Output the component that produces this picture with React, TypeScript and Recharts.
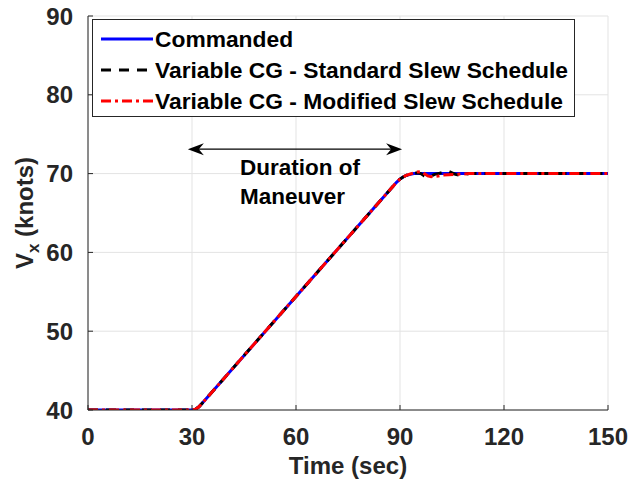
import { CartesianGrid, Line, LineChart, ReferenceLine, XAxis, YAxis } from 'recharts'

// time (sec) / speed (knots)
const cmdTime = [0, 30, 31, 32, 33, 88, 89, 90, 91, 92, 93, 94, 95, 150]
const cmdSpeed = [40, 40, 40.1, 40.4, 40.9, 68.4, 68.9, 69.3, 69.6, 69.8, 69.9, 70, 70, 70]

const stdTime = [0, 30, 31, 32, 33, 88, 89, 90, 91, 92, 93, 94, 95, 96, 97, 98, 99, 100, 101, 102, 103, 104, 105, 106, 107, 108, 110, 150]
const stdSpeed = [40, 40, 40.1, 40.4, 40.9, 68.4, 68.9, 69.3, 69.6, 69.8, 69.9, 70.0, 70.1, 70.0, 69.7, 69.6, 69.7, 69.9, 70.0, 70.1, 70.2, 70.3, 70.1, 69.9, 69.8, 69.9, 70, 70]

const modTime = [0, 30, 31, 32, 33, 88, 89, 90, 91, 92, 93, 94, 95, 96, 97, 98, 99, 100, 101, 102, 104, 106, 108, 110, 150]
const modSpeed = [40, 40, 40.1, 40.4, 40.9, 68.4, 68.9, 69.3, 69.6, 69.8, 69.95, 70.1, 70.2, 70.25, 70.0, 69.7, 69.6, 69.65, 69.7, 69.8, 69.85, 69.9, 69.95, 70, 70]

const xTicks = [0, 30, 60, 90, 120, 150]
const yTicks = [40, 50, 60, 70, 80, 90]

const seriesNames = [
  'Commanded',
  'Variable CG - Standard Slew Schedule',
  'Variable CG - Modified Slew Schedule',
]

// maneuver arrow span (sec) and height (knots)
const arrowSpan = [28.8, 90.6]
const arrowLevel = 73.1

const toPoints = (t: number[], v: number[]) => t.map((x, i) => ({ t: x, v: v[i] }))

const AXIS = '#262626'
const FONT = '"Liberation Sans", Arial, Helvetica, sans-serif'

const lineStyles = [
  { stroke: '#0000ff', dash: undefined },
  { stroke: '#000000', dash: '10 8' },
  { stroke: '#ff0000', dash: '10 4 3 4' },
]

function ArrowShape(props: any) {
  const { x1, y1, x2, y2 } = props
  const head = (x: number, y: number, dir: number) => {
    const len = 16
    const half = 6
    const back = 5
    return (
      <path
        d={`M${x},${y} L${x - dir * len},${y - half} L${x - dir * (len - back)},${y} L${x - dir * len},${y + half} Z`}
        fill="#000"
      />
    )
  }
  return (
    <g>
      <line x1={x1 + 4} y1={y1} x2={x2 - 4} y2={y2} stroke="#000" strokeWidth={1.2} />
      {head(x1, y1, -1)}
      {head(x2, y2, 1)}
    </g>
  )
}

function YLabel(props: any) {
  const { viewBox } = props
  const cx = 33
  const cy = viewBox.y + viewBox.height / 2
  return (
    <text
      x={cx}
      y={cy}
      transform={`rotate(-90, ${cx}, ${cy})`}
      textAnchor="middle"
      fill={AXIS}
      fontFamily={FONT}
      fontWeight="bold"
      fontSize={24}
    >
      V<tspan dy={6} fontSize={17}>x</tspan>
      <tspan dy={-6}> (knots)</tspan>
    </text>
  )
}

export default function App() {
  const tickStyle = { fill: AXIS, fontSize: 24, fontWeight: 'bold', fontFamily: FONT }
  return (
    <div style={{ position: 'absolute', left: 0, top: 0, width: 632, height: 488, background: '#fff', fontFamily: FONT }}>
      <LineChart width={632} height={488} margin={{ top: 16, right: 24, bottom: 0, left: 0 }}>
        <CartesianGrid stroke="#e3e3e3" strokeWidth={1} />
        <XAxis
          dataKey="t"
          type="number"
          domain={[0, 150]}
          ticks={xTicks}
          allowDataOverflow
          height={78}
          stroke={AXIS}
          tickSize={-5}
          tickMargin={23}
          tick={tickStyle}
          label={{ value: 'Time (sec)', position: 'insideBottom', offset: 14, fill: AXIS, fontSize: 24, fontWeight: 'bold', fontFamily: FONT }}
        />
        <XAxis xAxisId="top" orientation="top" type="number" domain={[0, 150]} ticks={xTicks} height={0} stroke={AXIS} tickSize={-5} tick={false} />
        <YAxis
          type="number"
          domain={[40, 90]}
          ticks={yTicks}
          allowDataOverflow
          width={88}
          stroke={AXIS}
          tickSize={-5}
          tickMargin={20}
          tick={tickStyle}
          label={<YLabel />}
        />
        <YAxis yAxisId="right" orientation="right" type="number" domain={[40, 90]} ticks={yTicks} width={0} stroke={AXIS} tickSize={-5} tick={false} />
        <ReferenceLine
          segment={[
            { x: arrowSpan[0], y: arrowLevel },
            { x: arrowSpan[1], y: arrowLevel },
          ]}
          shape={ArrowShape}
          ifOverflow="visible"
        />
        <Line
          data={toPoints(cmdTime, cmdSpeed)}
          dataKey="v"
          name={seriesNames[0]}
          type="linear"
          stroke={lineStyles[0].stroke}
          strokeWidth={3}
          dot={false}
          isAnimationActive={false}
        />
        <Line
          data={toPoints(stdTime, stdSpeed)}
          dataKey="v"
          name={seriesNames[1]}
          type="linear"
          stroke={lineStyles[1].stroke}
          strokeDasharray={lineStyles[1].dash}
          strokeWidth={3}
          dot={false}
          isAnimationActive={false}
        />
        <Line
          data={toPoints(modTime, modSpeed)}
          dataKey="v"
          name={seriesNames[2]}
          type="linear"
          stroke={lineStyles[2].stroke}
          strokeDasharray={lineStyles[2].dash}
          strokeWidth={3}
          dot={false}
          isAnimationActive={false}
        />
      </LineChart>

      <div
        style={{
          position: 'absolute',
          left: 92,
          top: 19,
          width: 481,
          height: 96,
          border: `1px solid ${AXIS}`,
          background: '#fff',
          fontWeight: 'bold',
          fontSize: 22.8,
          color: '#000',
        }}
      >
        {seriesNames.map((name, i) => (
          <div key={name} style={{ position: 'absolute', left: 0, top: 6 + i * 31, height: 26, display: 'flex', alignItems: 'center', whiteSpace: 'nowrap' }}>
            <svg width={60} height={10} style={{ marginLeft: 6 }}>
              <line x1={2} y1={5} x2={54} y2={5} stroke={lineStyles[i].stroke} strokeWidth={3} strokeDasharray={lineStyles[i].dash} />
            </svg>
            <span style={{ marginLeft: -4 }}>{name}</span>
          </div>
        ))}
      </div>

      <div style={{ position: 'absolute', left: 240, top: 153, fontWeight: 'bold', fontSize: 22.5, lineHeight: '29px', color: '#000' }}>
        Duration of
        <br />
        Maneuver
      </div>
    </div>
  )
}
